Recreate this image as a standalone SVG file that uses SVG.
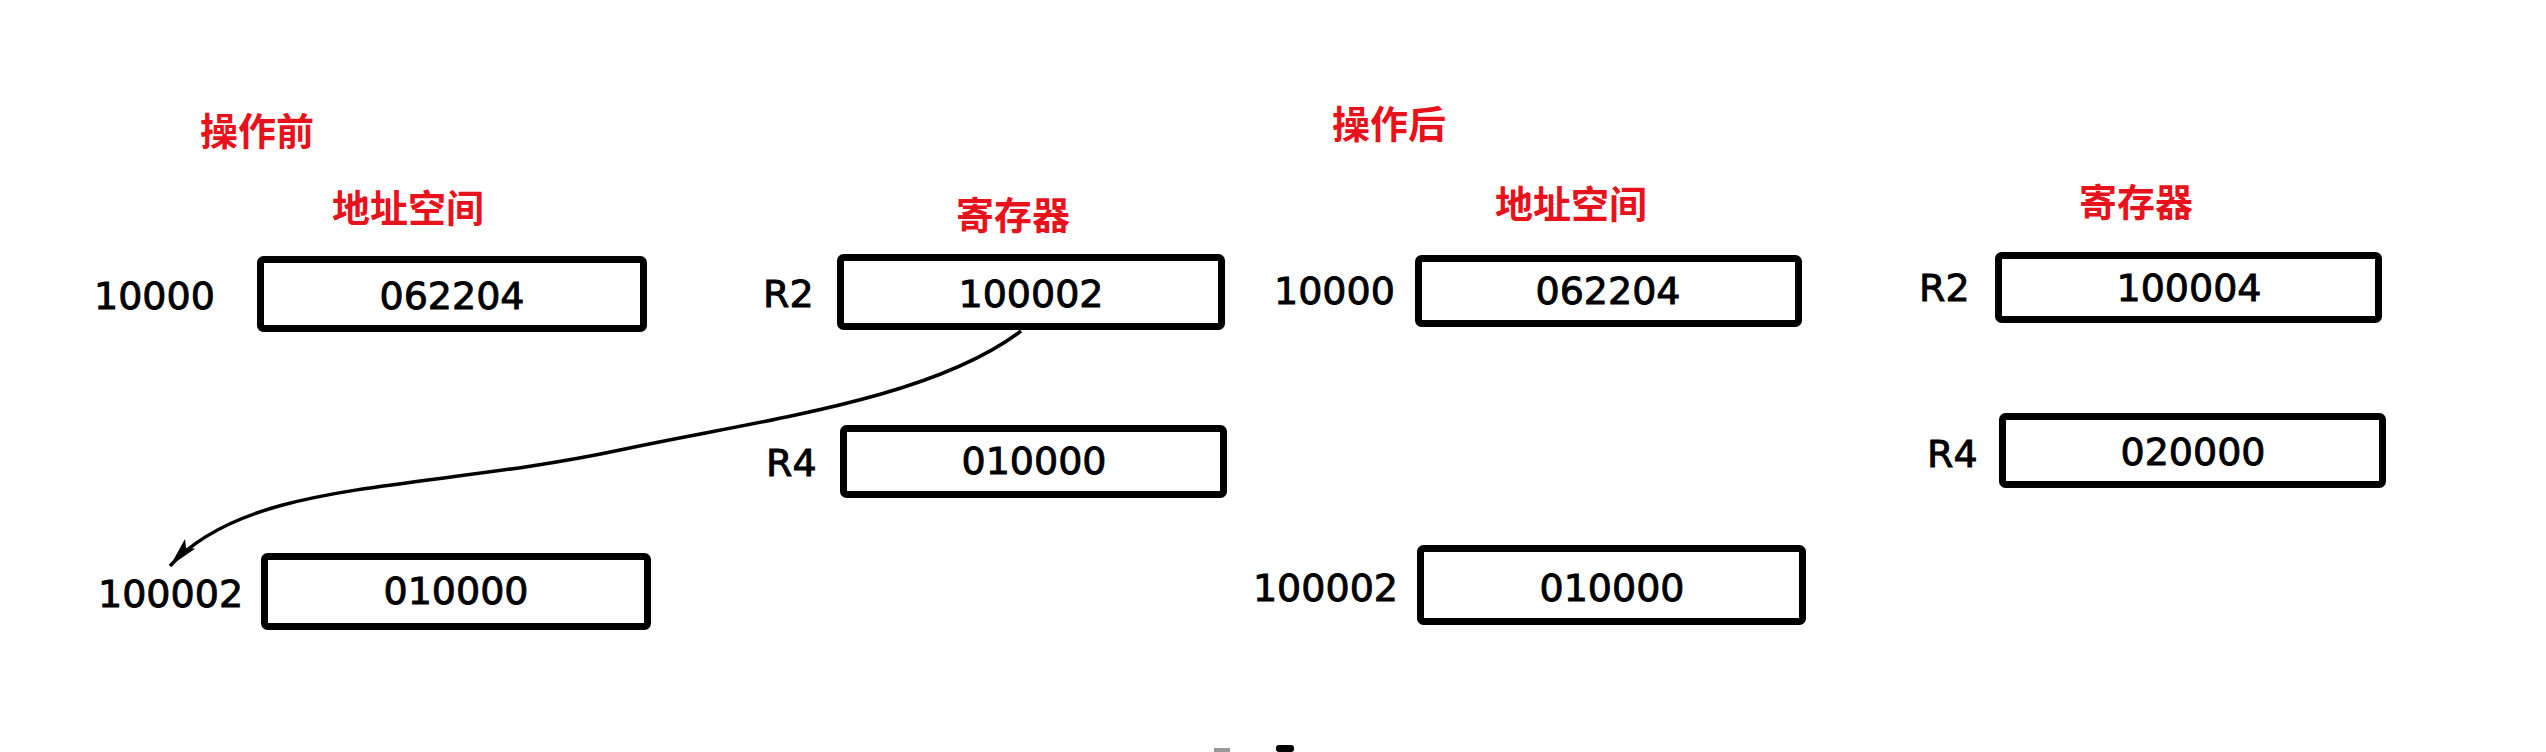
<svg xmlns="http://www.w3.org/2000/svg" width="2546" height="752" viewBox="0 0 2546 752">
<style>
.box{fill:#fff;stroke:#000;stroke-width:7}
.num{font-family:"DejaVu Sans","Liberation Sans",sans-serif;font-size:38px;fill:#000;stroke:#000;stroke-width:0.9}
.mid{text-anchor:middle}
.cn{font-family:"Noto Sans CJK SC",sans-serif;font-weight:bold;font-size:38px;fill:#e8121c;text-anchor:middle}
</style>
<defs>
<marker id="ah" viewBox="0 0 10 10" refX="10" refY="5" markerWidth="10" markerHeight="10" markerUnits="userSpaceOnUse" orient="auto" style="overflow:visible">
<path d="M-20,-2 L10,5 L-20,12 L-14,5 Z" fill="#000"/>
</marker>
</defs>
<rect width="2546" height="752" fill="#fff"/>
<g id="titles">
<text class="cn" x="257" y="145">操作前</text>
<text class="cn" x="408" y="222">地址空间</text>
<text class="cn" x="1013" y="229">寄存器</text>
<text class="cn" x="1389" y="138">操作后</text>
<text class="cn" x="1571" y="218">地址空间</text>
<text class="cn" x="2136" y="216">寄存器</text>
</g>
<g id="before-mem-10000">
<text class="num" x="94" y="309">10000</text>
<rect class="box" x="260.5" y="259.5" width="383" height="69" rx="3"/>
<text class="num mid" x="452" y="309">062204</text>
</g>
<g id="before-R2">
<text class="num" x="763" y="307">R2</text>
<rect class="box" x="840.5" y="257.5" width="381" height="69" rx="3"/>
<text class="num mid" x="1031" y="307">100002</text>
</g>
<g id="before-R4">
<text class="num" x="766" y="476">R4</text>
<rect class="box" x="843.5" y="428.5" width="380" height="66" rx="3"/>
<text class="num mid" x="1034" y="474">010000</text>
</g>
<g id="before-mem-100002">
<text class="num" x="98" y="607">100002</text>
<rect class="box" x="264.5" y="556.5" width="383" height="70" rx="3"/>
<text class="num mid" x="456" y="604">010000</text>
</g>
<g id="after-mem-10000">
<text class="num" x="1274" y="304">10000</text>
<rect class="box" x="1418.5" y="258.5" width="380" height="65" rx="3"/>
<text class="num mid" x="1608" y="304">062204</text>
</g>
<g id="after-R2">
<text class="num" x="1919" y="301">R2</text>
<rect class="box" x="1998.5" y="255.5" width="380" height="64" rx="3"/>
<text class="num mid" x="2189" y="301">100004</text>
</g>
<g id="after-R4">
<text class="num" x="1927" y="467">R4</text>
<rect class="box" x="2002.5" y="416.5" width="380" height="68" rx="3"/>
<text class="num mid" x="2193" y="465">020000</text>
</g>
<g id="after-mem-100002">
<text class="num" x="1398" y="601" text-anchor="end">100002</text>
<rect class="box" x="1420.5" y="548.5" width="382" height="73" rx="3"/>
<text class="num mid" x="1612" y="601">010000</text>
</g>
<g id="connectors">
<path d="M1021,331 C930,400 760,420 620,450 C424,492 250,478 170,566" fill="none" stroke="#000" stroke-width="3.5" marker-end="url(#ah)"/>
</g>
<g id="marks">
<rect x="1214" y="748" width="16" height="4" fill="#999"/>
<rect x="1276" y="745" width="18" height="7" rx="3" fill="#000"/>
</g>
</svg>
